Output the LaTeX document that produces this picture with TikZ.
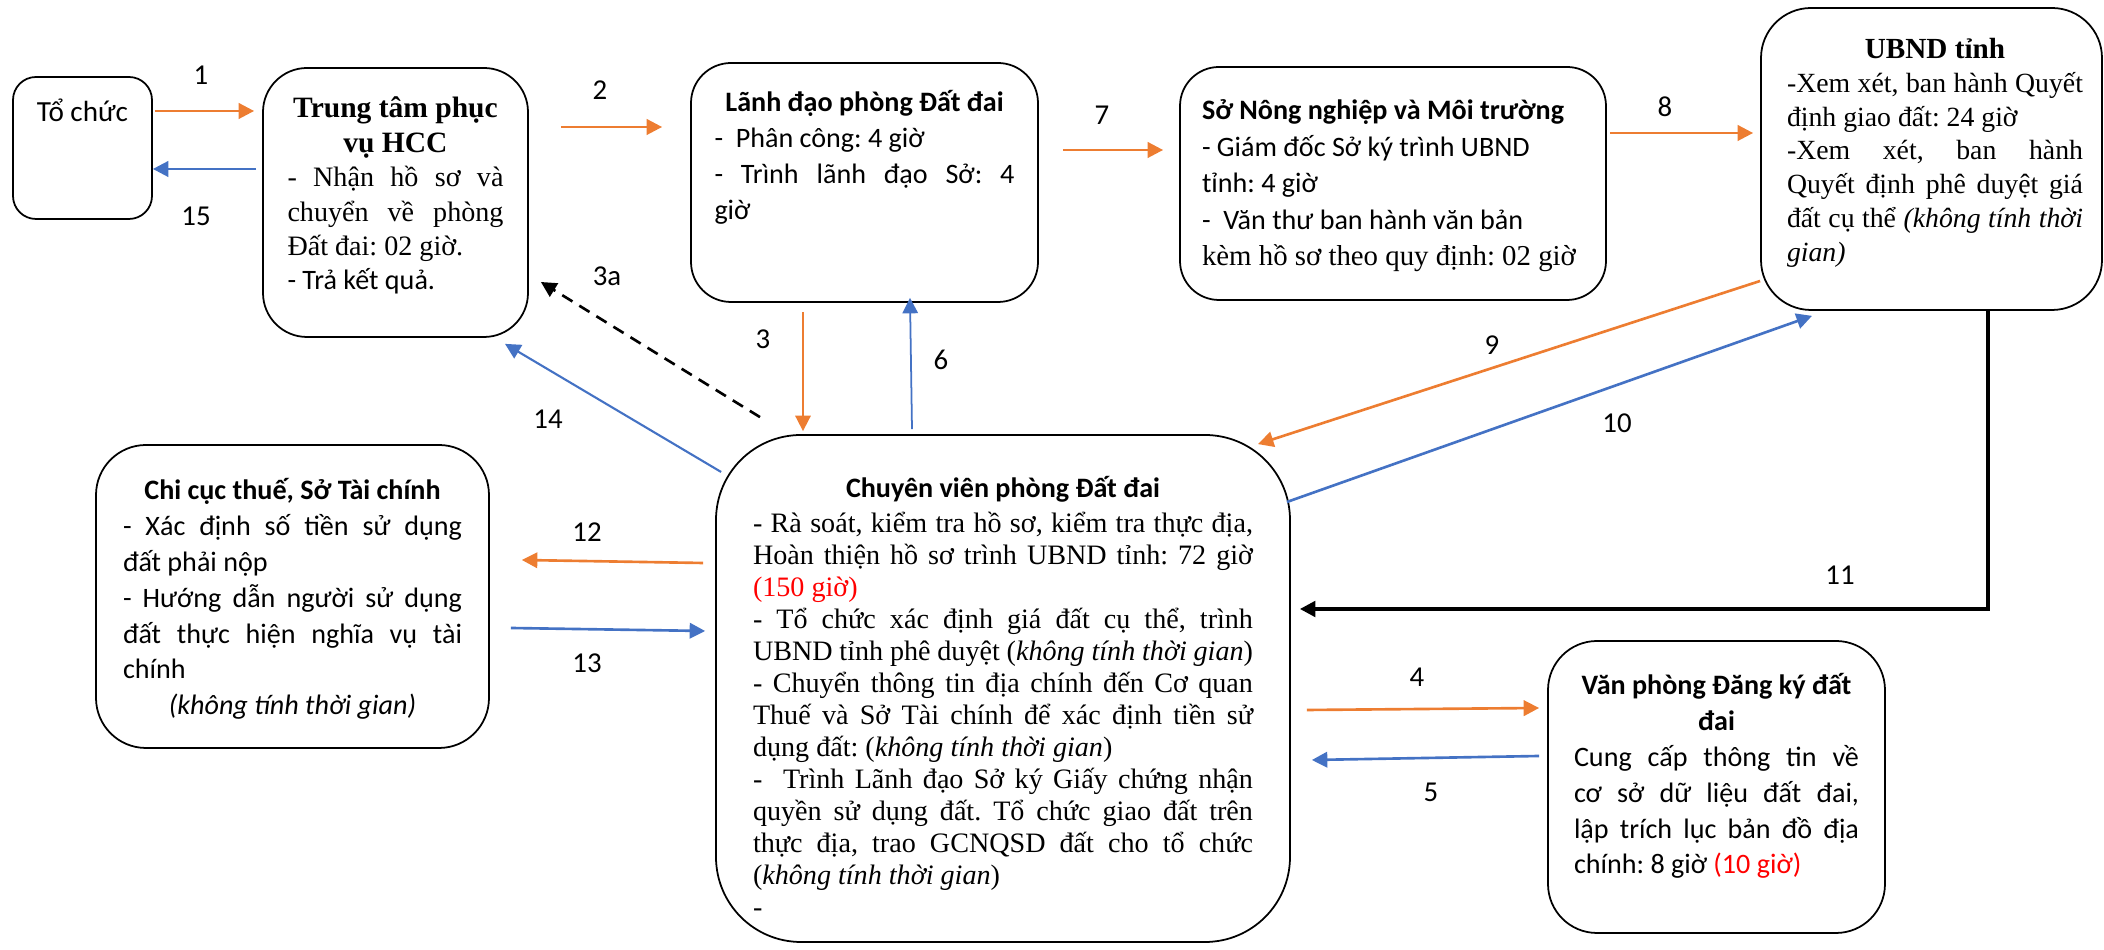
\documentclass[tikz,border=0pt]{standalone}
\usepackage{fontspec}
\setmainfont{Liberation Serif}
\setsansfont{Carlito}
\usepackage{tikz}
\usetikzlibrary{positioning, arrows.meta}
\definecolor{arrorange}{HTML}{ED7D31}
\definecolor{arrblue}{HTML}{4472C4}
\tikzstyle{box}=[draw, shape=rectangle, line width=0.5pt, inner sep=0pt]
\tikzstyle{boxtxt}=[inner sep=0pt, font=\sffamily\fontsize{8}{10.2}\selectfont]
\tikzstyle{num}=[inner sep=0pt, font=\sffamily\fontsize{8.2}{10}\selectfont]
\tikzstyle{fwdarr}=[->, line width=0.75pt, arrorange]
\tikzstyle{retarr}=[->, line width=0.75pt, arrblue]
\tikzset{>={Triangle[length=4.4pt,width=4.4pt]}}
% one printed row of a box text
\newcommand{\firstrow}{\rule{0pt}{8.5pt}}
\newcommand{\justrow}[1]{\hbox to \linewidth{#1}}
\newcommand{\leftrow}[1]{\hbox to \linewidth{#1\hfil}}
\newcommand{\midrow}[1]{\hbox to \linewidth{\hfil#1\hfil}}
\setlength{\parindent}{0pt}
\setlength{\lineskiplimit}{-20pt}
\frenchspacing

\begin{document}
\begin{tikzpicture}[x=0.1mm, y=-0.1mm]
\useasboundingbox (0,0) rectangle (2104,950);
% the boxes
\node[box, rounded corners=2.3mm, minimum width=13.9mm, minimum height=14.2mm] (tochuc) at (82.5,148) {};
\node[box, rounded corners=4.4mm, minimum width=26.5mm, minimum height=26.9mm] (ttpv) at (395.5,202.5) {};
\node[box, rounded corners=4mm, minimum width=34.7mm, minimum height=23.9mm] (lanhdao) at (864.5,182.5) {};
\node[box, rounded corners=3.9mm, minimum width=42.6mm, minimum height=23.3mm] (songn) at (1393,183.5) {};
\node[box, rounded corners=5mm, minimum width=34.1mm, minimum height=30.2mm] (ubnd) at (1931.5,159) {};
\node[box, rounded corners=8.5mm, minimum width=57.4mm, minimum height=50.7mm] (cv) at (1003,688.5) {};
\node[box, rounded corners=5mm, minimum width=39.3mm, minimum height=30.3mm] (chicuc) at (292.5,596.5) {};
\node[box, rounded corners=4.9mm, minimum width=33.7mm, minimum height=29.2mm] (vpdk) at (1716.5,787) {};
% the texts in the boxes
\node[boxtxt, font=\sffamily\fontsize{8.3}{10}\selectfont, below=1.5mm of tochuc.north] (tochuct) {\firstrow Tổ chức};
\node[boxtxt, font=\rmfamily\fontsize{8}{9.8}\selectfont, below=2mm of ttpv.north] (ttpvt)
  {\begin{minipage}[t]{21.6mm}
   \midrow{\bfseries\fontsize{8.4}{9.8}\selectfont\firstrow Trung tâm phục}
   \midrow{\bfseries\fontsize{8.4}{9.8}\selectfont vụ HCC}
   \justrow{- Nhận hồ sơ và}
   \justrow{chuyển về phòng}
   \leftrow{Đất đai: 02 giờ.}
   \leftrow{\sffamily - Trả kết quả.}
   \end{minipage}};
\node[boxtxt, below=1.9mm of lanhdao.north] (lanhdaot)
  {\begin{minipage}[t]{30mm}
   \midrow{\bfseries\firstrow Lãnh đạo phòng Đất đai}
   \leftrow{-\ \ Phân công: 4 giờ}
   \justrow{- Trình lãnh đạo Sở: 4}
   \leftrow{giờ}
   \end{minipage}};
\node[boxtxt, font=\sffamily\fontsize{8}{10.4}\selectfont, below=2.3mm of songn.north, xshift=-0.1mm] (songnt)
  {\begin{minipage}[t]{38mm}
   \leftrow{\bfseries\firstrow Sở Nông nghiệp và Môi trường}
   \leftrow{- Giám đốc Sở ký trình UBND}
   \leftrow{tỉnh: 4 giờ}
   \leftrow{-\ \ Văn thư ban hành văn bản}
   \leftrow{\rmfamily\fontsize{8.2}{10.4}\selectfont kèm hồ sơ theo quy định: 02 giờ}
   \end{minipage}};
\node[boxtxt, font=\rmfamily\fontsize{7.9}{9.6}\selectfont, below=2.1mm of ubnd.north, xshift=0.35mm] (ubndt)
  {\begin{minipage}[t]{29.6mm}
   \midrow{\bfseries\fontsize{8.3}{9.6}\selectfont\firstrow UBND tỉnh}
   \justrow{-Xem xét, ban hành Quyết}
   \leftrow{định giao đất: 24 giờ}
   \justrow{-Xem xét, ban hành}
   \justrow{Quyết định phê duyệt giá}
   \justrow{đất cụ thể \textit{(không tính thời}}
   \leftrow{\textit{gian)}}
   \end{minipage}};
\node[boxtxt, font=\rmfamily\fontsize{8}{9.1}\selectfont, below=3.3mm of cv.north] (cvt)
  {\begin{minipage}[t]{50mm}
   \midrow{\sffamily\bfseries\firstrow Chuyên viên phòng Đất đai}
   \vskip0.85pt
   \justrow{- Rà soát, kiểm tra hồ sơ, kiểm tra thực địa,}
   \justrow{Hoàn thiện hồ sơ trình UBND tỉnh: 72 giờ}
   \leftrow{\color{red}(150 giờ)}
   \justrow{- Tổ chức xác định giá đất cụ thể, trình}
   \justrow{UBND tỉnh phê duyệt (\textit{không tính thời gian})}
   \justrow{- Chuyển thông tin địa chính đến Cơ quan}
   \justrow{Thuế và Sở Tài chính để xác định tiền sử}
   \leftrow{dụng đất: (\textit{không tính thời gian})}
   \justrow{-\ \ Trình Lãnh đạo Sở ký Giấy chứng nhận}
   \justrow{quyền sử dụng đất. Tổ chức giao đất trên}
   \justrow{thực địa, trao GCNQSD đất cho tổ chức}
   \leftrow{(\textit{không tính thời gian})}
   \leftrow{-}
   \end{minipage}};
\node[boxtxt, below=2.5mm of chicuc.north] (chicuct)
  {\begin{minipage}[t]{33.9mm}
   \midrow{\bfseries\firstrow Chi cục thuế, Sở Tài chính}
   \justrow{- Xác định số tiền sử dụng}
   \leftrow{đất phải nộp}
   \justrow{- Hướng dẫn người sử dụng}
   \justrow{đất thực hiện nghĩa vụ tài}
   \leftrow{chính}
   \midrow{\itshape (không tính thời gian)}
   \end{minipage}};
\node[boxtxt, below=2.4mm of vpdk.north] (vpdkt)
  {\begin{minipage}[t]{28.5mm}
   \midrow{\bfseries\firstrow Văn phòng Đăng ký đất}
   \midrow{\bfseries đai}
   \justrow{Cung cấp thông tin về}
   \justrow{cơ sở dữ liệu đất đai,}
   \justrow{lập trích lục bản đồ địa}
   \leftrow{chính: 8 giờ \textcolor{red}{(10 giờ)}}
   \end{minipage}};
% the arrows
\draw[fwdarr] ([shift={(2,-37)}]tochuc.east) -- ([shift={(-8,-91.5)}]ttpv.west);
\draw[retarr] ([shift={(-6,-33.5)}]ttpv.west) -- ([shift={(0,21)}]tochuc.east);
\draw[fwdarr] ([shift={(32,-75.5)}]ttpv.east) -- ([shift={(-28,-55.5)}]lanhdao.west);
\draw[fwdarr] ([shift={(24,-32.5)}]lanhdao.east) -- ([shift={(-16,-33.5)}]songn.west);
\draw[fwdarr] ([shift={(3,-50.5)}]songn.east) -- ([shift={(-7,-26)}]ubnd.west);
\draw[fwdarr, line width=0.5pt] ([shift={(-61.5,9)}]lanhdao.south) -- ([shift={(-200,-3)}]cv.north);
\draw[retarr, line width=0.5pt] ([shift={(-91,-5)}]cv.north) -- ([shift={(45.5,-5)}]lanhdao.south);
\draw[->, line width=0.75pt, dash pattern=on 3.4pt off 2.3pt] ([shift={(-243,-17)}]cv.north) -- ([shift={(12,79.5)}]ttpv.east);
\draw[retarr, line width=0.6pt] ([shift={(6,-216.5)}]cv.west) -- ([shift={(109.5,6)}]ttpv.south);
\draw[fwdarr] ([shift={(0,122)}]ubnd.west) -- ([shift={(255,10)}]cv.north);
\draw[retarr] ([shift={(-4,-186.5)}]cv.east) -- ([shift={(-119.5,5)}]ubnd.south);
\draw[->, line width=1pt] ([shift={(56.5,0)}]ubnd.south) |- ([shift={(9,-79.5)}]cv.east);
\draw[fwdarr] ([shift={(-12,-125.5)}]cv.west) -- ([shift={(32,-36.5)}]chicuc.east);
\draw[retarr] ([shift={(21,31.5)}]chicuc.east) -- ([shift={(-10,-57.5)}]cv.west);
\draw[fwdarr] ([shift={(16,21.5)}]cv.east) -- ([shift={(-8,-79)}]vpdk.west);
\draw[retarr] ([shift={(-8,-31)}]vpdk.west) -- ([shift={(21,71.5)}]cv.east);
% the step numbers
\node[num] (n1) at (201,75) {1};
\node[num] (n15) at (196,216) {15};
\node[num] (n2) at (600,90) {2};
\node[num] (n7) at (1102,115) {7};
\node[num] (n8) at (1665,107) {8};
\node[num] (n3) at (763,339) {3};
\node[num] (n6) at (941,360) {6};
\node[num] (n3a) at (607,276) {3a};
\node[num] (n14) at (548,419) {14};
\node[num] (n9) at (1492,345) {9};
\node[num] (n10) at (1617,423) {10};
\node[num] (n11) at (1840,575) {11};
\node[num] (n12) at (587,532) {12};
\node[num] (n13) at (587,663) {13};
\node[num] (n4) at (1417,677) {4};
\node[num] (n5) at (1431,792) {5};
\end{tikzpicture}
\end{document}
